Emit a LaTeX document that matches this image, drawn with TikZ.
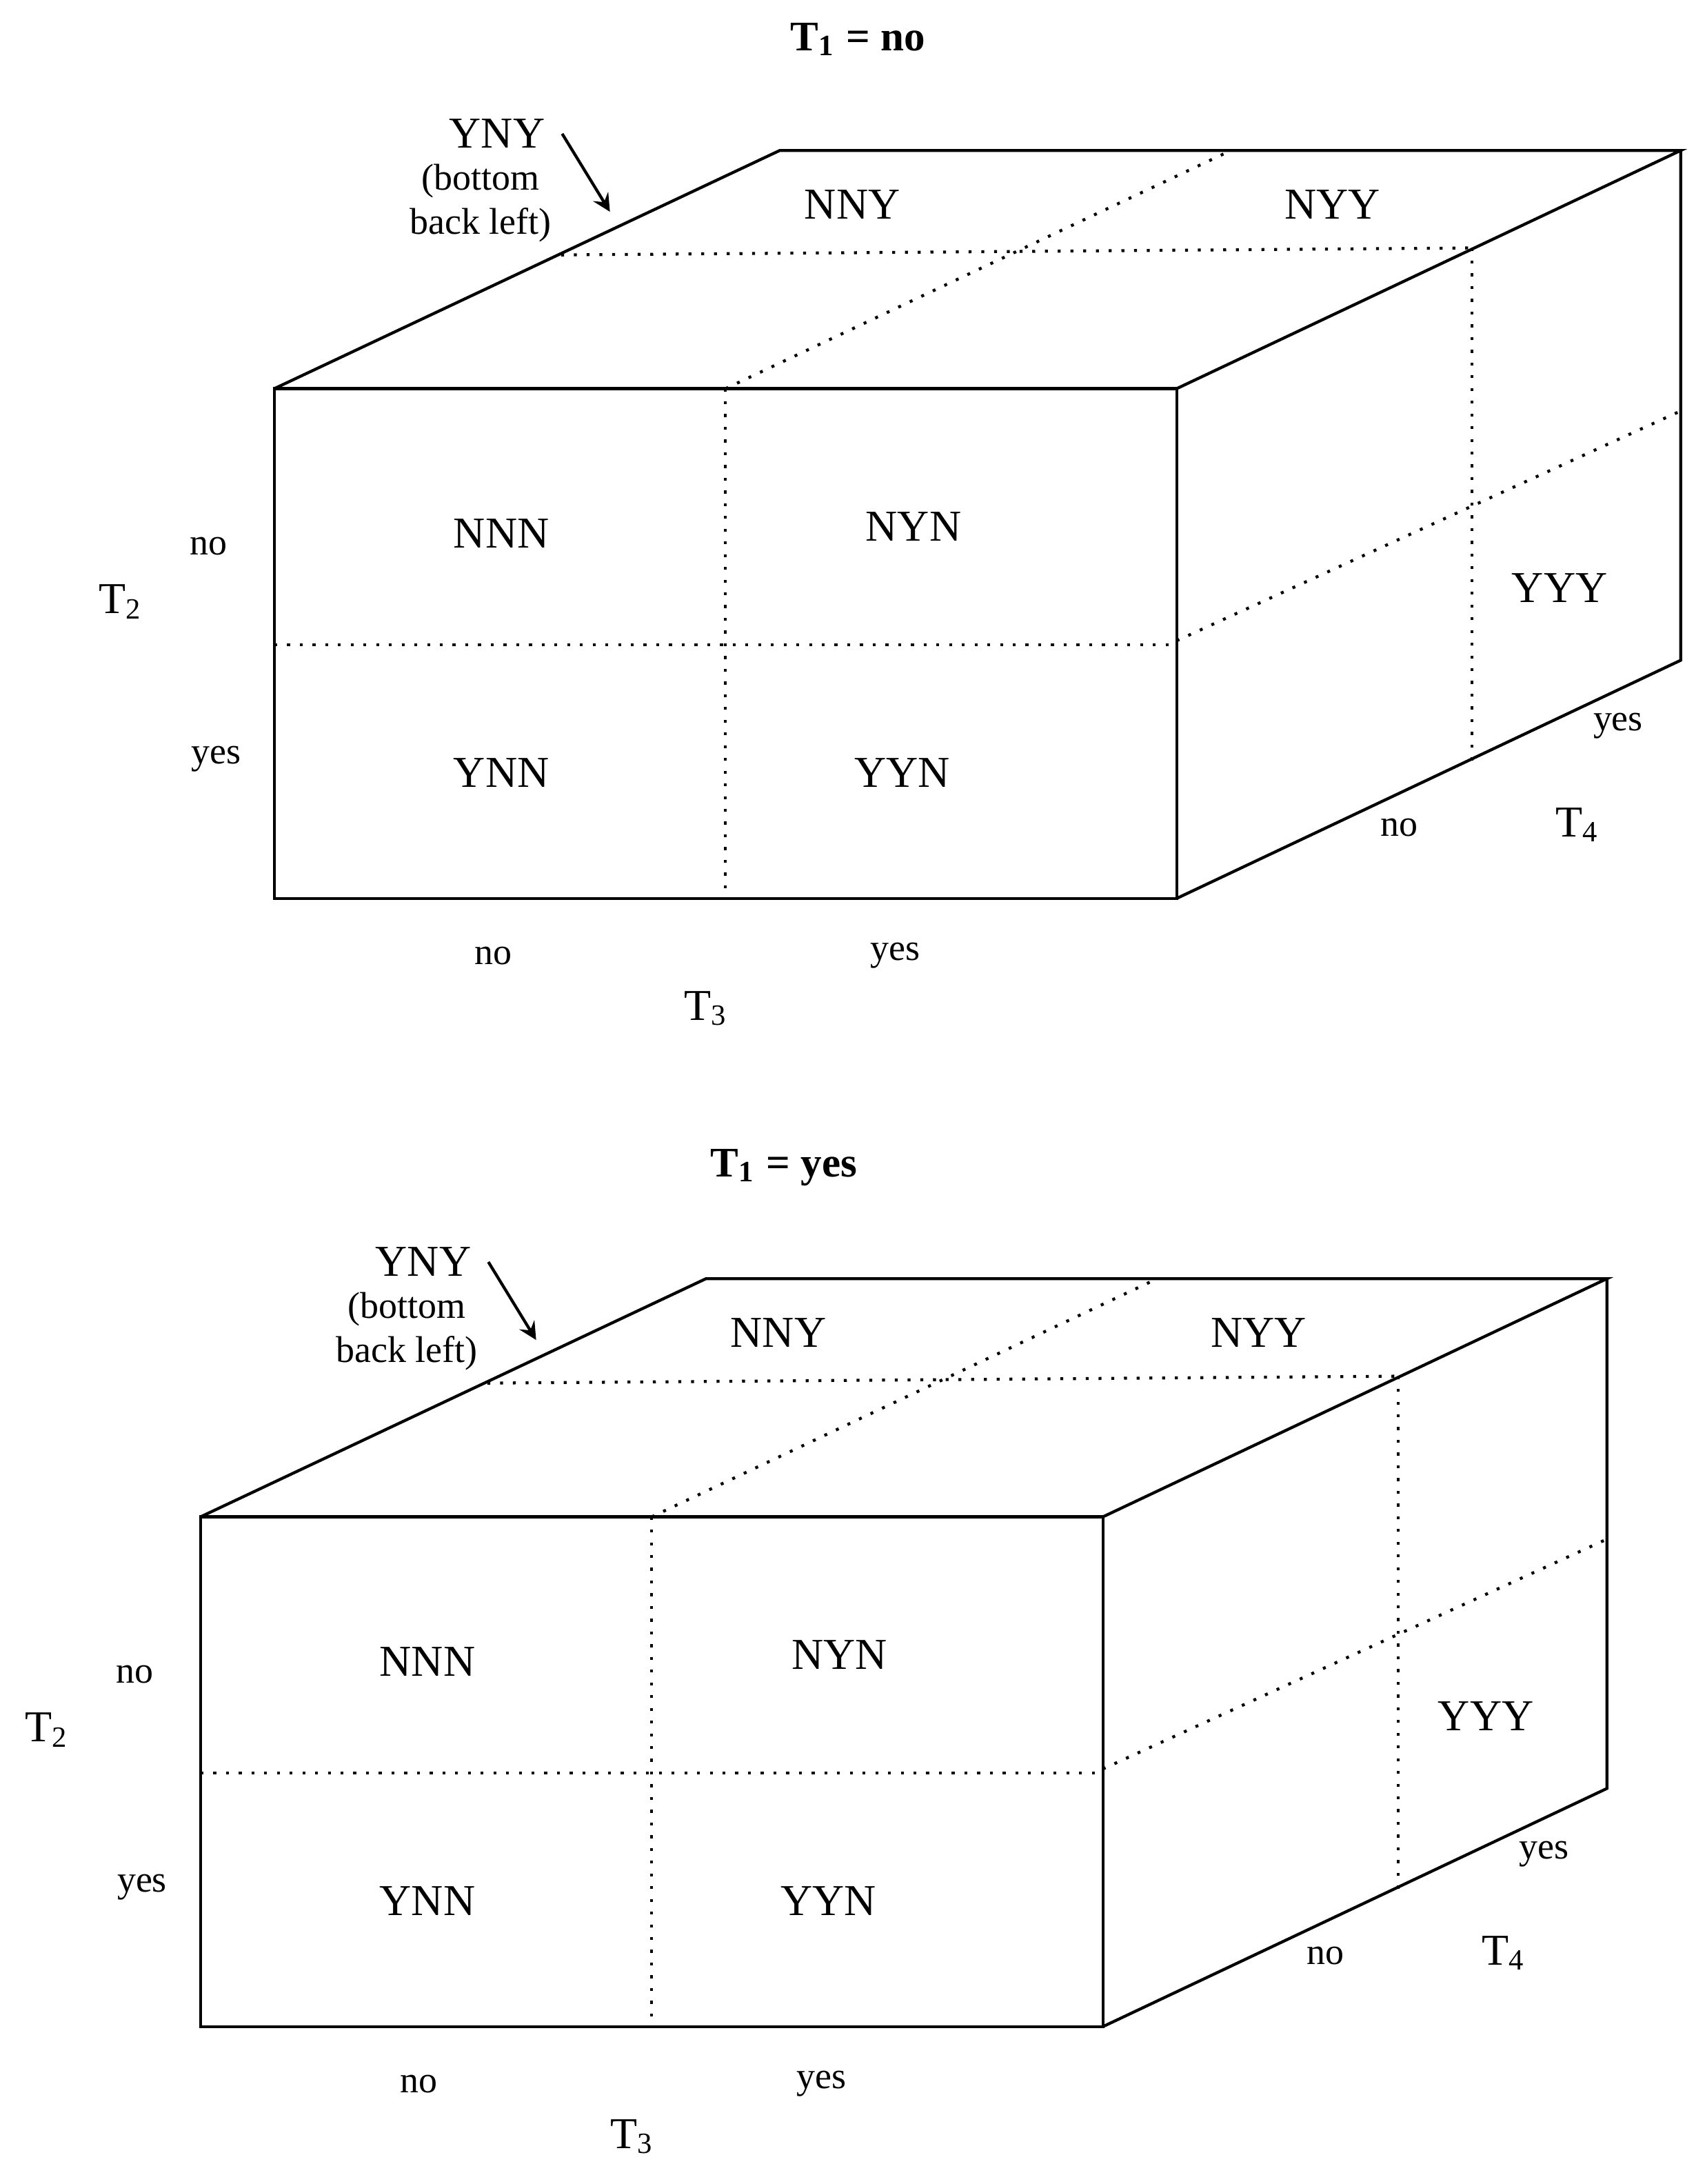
\documentclass[tikz,border=0pt]{standalone}
\usepackage{fontspec}
\setmainfont{Liberation Serif}
\begin{document}
\begin{tikzpicture}[x=0.01cm,y=-0.01cm,
  edge/.style={line width=0.6pt},
  dot/.style={dotted,line width=0.6pt},
  big/.style={font=\fontsize{9}{10}\selectfont},
  small/.style={font=\fontsize{7.6}{9}\selectfont},
  ttl/.style={font=\fontsize{8.6}{10}\selectfont\bfseries}]
\useasboundingbox (0,0) rectangle (1224,1568);
\newcommand{\mycube}[2]{%
\begin{scope}[shift={#1}]
 \coordinate (A) at (197,279); \coordinate (B) at (845,279);
 \coordinate (C) at (845,645); \coordinate (D) at (197,645);
 \coordinate (E) at (560,108); \coordinate (F) at (1207,108);
 \coordinate (G) at (1207,474);
 \draw[edge] (A)--(B)--(C)--(D)--cycle;
 \draw[edge] (A)--(E)--(F)--(B);
 \draw[edge] (F)--(G)--(C);
 \draw[dot] (521,279)--(521,645);
 \draw[dot] (197,463)--(845,463);
 \draw[dot] (521,279)--(884,108);
 \draw[dot] (403,183)--(1057,178);
 \draw[dot] (1057,178)--(1057,548);
 \draw[dot] (845,460)--(1207,295);
 \node[big] (nny) at (612,147) {NNY};
 \node[big] (nyy) at (957,147) {NYY};
 \node[big] (nnn) at (360,383) {NNN};
 \node[big] (nyn) at (656,378) {NYN};
 \node[big] (ynn) at (360,555) {YNN};
 \node[big] (yyn) at (648,555) {YYN};
 \node[big] (yyy) at (1120,422) {YYY};
 \node[big] (t2) at (87,432) {T\textsubscript{2}};
 \node[small] (n2) at (150,392) {no};
 \node[small] (y2) at (155,545) {yes};
 \node[small] (n3) at (354,686) {no};
 \node[small] (y3) at (643,686) {yes};
 \node[big] (t3) at (507,724) {T\textsubscript{3}};
 \node[small] (y4) at (1162,521) {yes};
 \node[small] (n4) at (1005,594) {no};
 \node[big] (t4) at (1133,592) {T\textsubscript{4}};
 \node[big] (yny) at (357,96) {YNY};
 \node[small,align=center] (bbl) at (345,146) {(bottom\\back left)};
 \coordinate (tip) at (438,152);
 \draw[edge,-stealth] (yny.east)--(tip);
 \node[ttl] (title) at (616,28) {T\textsubscript{1} = #2};
\end{scope}}
\mycube{(0,0)}{no}
\mycube{(-53,810)}{yes}
\end{tikzpicture}
\end{document}
